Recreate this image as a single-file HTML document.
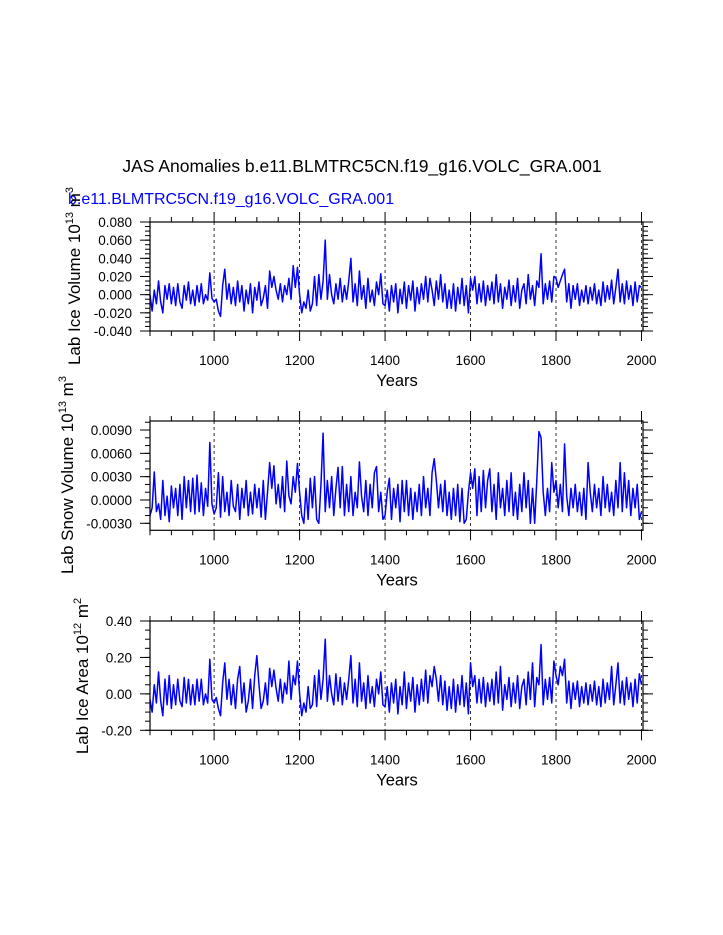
<!DOCTYPE html>
<html><head><meta charset="utf-8">
<style>
html,body{margin:0;padding:0;background:#fff;}
svg{display:block;font-family:"Liberation Sans",Arial,sans-serif;}
</style></head>
<body>
<svg id="chart" width="723" height="935" viewBox="0 0 723 935" xmlns="http://www.w3.org/2000/svg">
<text x="362" y="172" font-size="17.5" text-anchor="middle" fill="#000">JAS Anomalies b.e11.BLMTRC5CN.f19_g16.VOLC_GRA.001</text>
<text x="68" y="204" font-size="16" fill="#0000ff">b.e11.BLMTRC5CN.f19_g16.VOLC_GRA.001</text>
<g id="plots"></g>
</svg>
<script>
// years: 850..2000 step 5
const startYear = 850;
const stepYears = 5;
const iceVolume = [
0,-18,5,-10,15,-8,-20,10,-5,12,
-10,8,-12,12,-8,-15,10,-6,14,-10,
5,-12,10,-8,12,-10,0,-6,24,-4,
-8,-5,-18,-24,10,28,-5,12,-10,8,
-12,15,-8,10,-18,5,-10,12,-20,8,
-6,14,-12,-4,10,-15,26,8,20,5,
-5,12,-8,10,0,18,-5,32,8,30,
0,-20,-8,-15,5,-18,-10,20,-12,22,
-5,15,60,-5,22,0,-10,12,-5,18,
-8,10,-5,15,40,-8,12,-12,26,-5,
10,-15,18,-8,5,-12,14,0,23,-10,
-12,5,-18,10,-8,12,-20,6,-10,14,
-15,10,-6,15,-18,8,-10,12,-5,20,
-8,18,5,-12,15,-5,22,-8,12,-15,
5,-15,12,-18,8,-10,18,-12,10,-20,
18,5,20,-10,12,-8,15,-12,10,-6,
14,-10,22,-8,12,-15,8,-5,16,-12,
10,-8,18,-15,5,12,-10,22,-5,10,
-12,15,8,45,-10,12,-5,15,-8,20,
18,8,15,22,28,-8,12,-15,10,-5,
12,-12,5,-8,10,-10,8,-6,12,-10,
5,-12,14,-8,10,-5,16,-10,8,28,
-8,12,-10,15,-5,10,-12,14,-8,10,
8].map(v=>v*0.001);
const snowVolume = [
-20,-10,36,-15,-5,-25,25,-20,5,-28,
18,-10,15,-20,20,-25,30,-10,25,-15,
28,-18,32,-15,22,-20,15,-8,74,-5,
-18,-10,35,-22,30,-15,10,-20,25,-8,
-15,20,-25,15,-10,25,-20,10,-18,20,
-10,15,-22,25,-25,10,48,15,44,-5,
20,-10,30,-15,50,5,-5,30,10,47,
10,-20,-30,15,-25,28,-10,30,-25,-30,
20,86,-15,25,-10,30,-20,15,42,-10,
43,-20,20,-15,30,-20,10,-10,49,5,
-15,25,-20,20,-10,35,43,-15,10,-25,
-20,10,28,-25,15,-10,20,-28,25,-15,
25,-20,15,-25,10,-15,20,-20,30,-10,
15,-20,35,53,25,-10,20,-15,25,-20,
10,-25,15,-20,20,-28,15,-30,-25,10,
35,15,40,-20,30,-15,38,-10,25,40,
-15,20,-25,35,-10,15,-20,25,-15,35,
-20,10,-25,20,-15,35,-10,25,-30,15,
-30,25,88,80,10,-20,15,-15,48,10,
25,-10,20,-15,72,5,-20,15,-10,20,
-15,10,-20,15,-25,48,10,-15,20,-10,
15,-20,30,-10,20,-15,10,-20,25,-10,
48,-15,35,-10,25,-20,15,-10,20,-25,
-15].map(v=>v*0.0001);
const iceArea = [
-3,-10,5,-5,12,-4,-12,8,-6,10,
-8,5,-6,8,-4,-7,9,-5,8,-6,
5,-6,8,-4,8,-6,0,-5,19,-3,
-5,-2,-8,-12,6,17,-3,8,-6,5,
-8,8,15,-5,6,-10,-4,8,-8,10,
21,5,-8,-4,6,-6,14,4,13,3,
-4,8,-5,6,0,18,-3,10,5,18,
0,-12,-5,-10,4,-8,-6,10,-7,13,
-3,8,30,-4,10,0,-6,11,-4,9,
-6,6,-3,8,21,-5,8,-7,17,-4,
6,-8,10,-5,4,-7,8,0,12,-6,
-7,4,-10,6,-5,8,-11,4,-6,12,
-8,6,-4,9,-10,5,-6,8,-4,13,
-5,10,4,15,8,-4,10,-6,7,-9,
4,-8,8,-10,5,-6,10,-7,6,-11,
17,4,10,-5,8,-5,9,-7,6,-4,
8,-6,12,-5,15,-9,5,-3,9,-7,
6,-5,10,-8,4,8,-6,12,-3,17,
-7,9,5,27,-6,8,-3,9,-5,18,
10,5,15,10,19,-5,7,-8,6,-3,
7,-7,4,-5,6,-6,5,-4,7,-6,
4,-7,8,-5,6,-3,15,-6,5,17,
-5,7,-6,9,-3,6,-7,8,-5,11,
5].map(v=>v*0.01);
const xTickLabels = ["1000","1200","1400","1600","1800","2000"];
const xTickYears = [1000,1200,1400,1600,1800,2000];
const p1Ticks = [0.08,0.06,0.04,0.02,0,-0.02,-0.04];
const p1Labels = ["0.080","0.060","0.040","0.020","0.000","-0.020","-0.040"];
const p2Ticks = [0.009,0.006,0.003,0,-0.003];
const p2Labels = ["0.0090","0.0060","0.0030","0.0000","-0.0030"];
const p3Ticks = [0.4,0.2,0,-0.2];
const p3Labels = ["0.40","0.20","0.00","-0.20"];

const NS="http://www.w3.org/2000/svg";
const root=document.getElementById('plots');
const X0=150,X1=643,Y_MIN=850,Y_MAX=2003.5;
function xs(yr){return X0+(yr-Y_MIN)/(Y_MAX-Y_MIN)*(X1-X0);}
function mk(tag,attrs,parent){const e=document.createElementNS(NS,tag);for(const k in attrs)e.setAttribute(k,attrs[k]);(parent||root).appendChild(e);return e;}

const panels=[
 {name:'ice-volume',data:iceVolume,top:222,bot:331,vmax:0.08,vmin:-0.04,ticks:p1Ticks,labels:p1Labels,minor:0.005,
  title:['Lab Ice Volume 10','13',' m','3'],tx:80,tc:276},
 {name:'snow-volume',data:snowVolume,top:421,bot:530.3,vmax:0.01016,vmin:-0.0039,ticks:p2Ticks,labels:p2Labels,minor:0.001,
  title:['Lab Snow Volume 10','13',' m','3'],tx:73,tc:475},
 {name:'ice-area',data:iceArea,top:621,bot:730.3,vmax:0.4,vmin:-0.2,ticks:p3Ticks,labels:p3Labels,minor:0.05,
  title:['Lab Ice Area 10','12',' m','2'],tx:88,tc:676}
];
panels.forEach(p=>{
 const g=mk('g',{});
 
 
 const ys=v=>p.bot-(v-p.vmin)/(p.vmax-p.vmin)*(p.bot-p.top);
 xTickYears.forEach(yr=>{
  const l=mk('line',{x1:xs(yr),x2:xs(yr),y1:p.top,y2:p.bot,stroke:'#000','stroke-width':0.8,'stroke-dasharray':'3,3'},g);
  
  
 });
 let d='';
 p.data.forEach((v,i)=>{const yr=startYear+i*stepYears;d+=(i?'L':'M')+xs(yr).toFixed(2)+','+ys(v).toFixed(2);});
 const path=mk('path',{d:d,fill:'none',stroke:'#0000ff','stroke-width':1.5,'stroke-linejoin':'round'},g);
 
 
 const fr=mk('rect',{x:X0,y:p.top,width:X1-X0,height:p.bot-p.top,fill:'none',stroke:'#000','stroke-width':1.2},g);
 
 
 for(let yr=850;yr<=2000;yr+=50){
  const maj=(yr%200===0);const len=maj?10:5;const x=xs(yr);
  mk('line',{x1:x,x2:x,y1:p.bot,y2:p.bot+len,stroke:'#000','stroke-width':1},g);
  mk('line',{x1:x,x2:x,y1:p.top,y2:p.top-len,stroke:'#000','stroke-width':1},g);
 }
 xTickLabels.forEach((lab,i)=>{
  const t=mk('text',{x:xs(xTickYears[i]),y:p.bot+34,'font-size':13.5,'text-anchor':'middle',fill:'#000'},g);
  t.textContent=lab;
  
  
 });
 const xt=mk('text',{x:397,y:p.bot+55,'font-size':16.5,'text-anchor':'middle',fill:'#000'},g);
 xt.textContent='Years';
 
 
 const n=Math.round((p.vmax-p.vmin)/p.minor)+2;
 const startV=Math.ceil(p.vmin/p.minor-1e-6)*p.minor;
 for(let k=0;k<n;k++){const v=startV+k*p.minor;if(v>p.vmax+1e-9)break;const y=ys(v);
  mk('line',{x1:X0,x2:X0-5,y1:y,y2:y,stroke:'#000','stroke-width':1},g);
  mk('line',{x1:X1,x2:X1+5,y1:y,y2:y,stroke:'#000','stroke-width':1},g);}
 p.ticks.forEach((v,i)=>{const y=ys(v);
  mk('line',{x1:X0,x2:X0-10,y1:y,y2:y,stroke:'#000','stroke-width':1},g);
  mk('line',{x1:X1,x2:X1+10,y1:y,y2:y,stroke:'#000','stroke-width':1},g);
  const t=mk('text',{x:X0-18,y:y+5,'font-size':13.5,'text-anchor':'end',fill:'#000'},g);
  t.textContent=p.labels[i];
  
  
 });
 const yt=mk('text',{x:0,y:0,'font-size':17,'text-anchor':'middle',fill:'#000',transform:`translate(${p.tx},${p.tc}) rotate(-90)`},g);
 
 
 const parts=p.title;
 const s1=mk('tspan',{},yt);s1.textContent=parts[0];
 const s2=mk('tspan',{dy:-7,'font-size':11},yt);s2.textContent=parts[1];
 const s3=mk('tspan',{dy:7},yt);s3.textContent=parts[2];
 const s4=mk('tspan',{dy:-7,'font-size':11},yt);s4.textContent=parts[3];
});
</script>
</body></html>
